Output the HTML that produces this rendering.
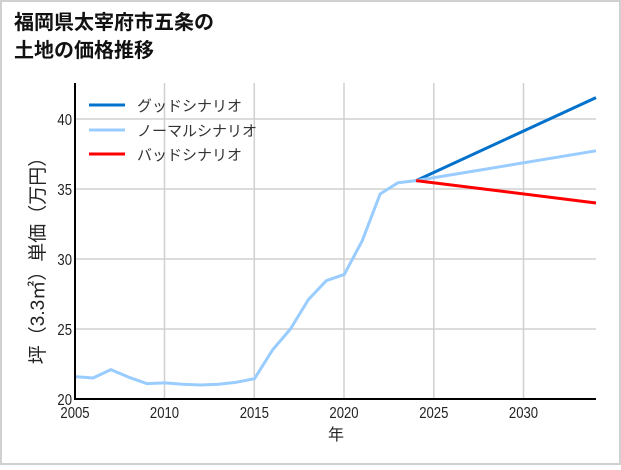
<!DOCTYPE html>
<html><head><meta charset="utf-8"><style>
html,body{margin:0;padding:0;background:#fff;}
body{width:621px;height:465px;overflow:hidden;}
svg text{font-family:"Liberation Sans","Noto Sans CJK JP",sans-serif;}
</style></head><body>
<svg width="621" height="465" viewBox="0 0 621 465" xmlns="http://www.w3.org/2000/svg">
<rect x="1" y="1" width="619" height="463" fill="#fff" stroke="#d0d0d0" stroke-width="2"/>
<text x="14" y="29" font-size="20" font-weight="bold" fill="#111">福岡県太宰府市五条の</text>
<text x="14" y="57" font-size="20" font-weight="bold" fill="#111">土地の価格推移</text>
<g stroke="#d0d0d0" stroke-width="1.5">
<line x1="164.5" y1="83" x2="164.5" y2="399"/>
<line x1="254.3" y1="83" x2="254.3" y2="399"/>
<line x1="344" y1="83" x2="344" y2="399"/>
<line x1="433.8" y1="83" x2="433.8" y2="399"/>
<line x1="523.5" y1="83" x2="523.5" y2="399"/>
<line x1="75" y1="329" x2="596" y2="329"/>
<line x1="75" y1="259" x2="596" y2="259"/>
<line x1="75" y1="189" x2="596" y2="189"/>
<line x1="75" y1="119" x2="596" y2="119"/>
</g>
<polyline fill="none" stroke="#99ccff" stroke-width="3" stroke-linejoin="round" points="75,376.6 93,378 110.9,369.6 128.9,377.3 146.8,383.6 164.8,382.9 182.7,384.3 200.7,385 218.6,384.3 236.6,382.2 254.5,378.7 272.5,350 290.4,329 308.4,299.6 326.3,280.7 344.3,274.4 362.2,240.8 380.2,193.9 398.1,182.7 416.1,180.6"/>
<line x1="416.1" y1="180.6" x2="596" y2="97.6" stroke="#0072cc" stroke-width="3"/>
<line x1="416.1" y1="180.6" x2="596" y2="150.8" stroke="#99ccff" stroke-width="3"/>
<line x1="416.1" y1="180.6" x2="596" y2="203" stroke="#ff0000" stroke-width="3"/>
<line x1="75" y1="83" x2="75" y2="400" stroke="#000" stroke-width="2"/>
<line x1="74" y1="399" x2="596" y2="399" stroke="#000" stroke-width="2"/>
<g font-size="16" fill="#222" text-anchor="end">
<text transform="translate(72,405) scale(0.82,1)">20</text>
<text transform="translate(72,335) scale(0.82,1)">25</text>
<text transform="translate(72,265) scale(0.82,1)">30</text>
<text transform="translate(72,195) scale(0.82,1)">35</text>
<text transform="translate(72,125) scale(0.82,1)">40</text>
</g>
<g font-size="16" fill="#222" text-anchor="middle">
<text transform="translate(75,418) scale(0.82,1)">2005</text>
<text transform="translate(164.5,418) scale(0.82,1)">2010</text>
<text transform="translate(254.3,418) scale(0.82,1)">2015</text>
<text transform="translate(344,418) scale(0.82,1)">2020</text>
<text transform="translate(433.8,418) scale(0.82,1)">2025</text>
<text transform="translate(523.5,418) scale(0.82,1)">2030</text>
</g>
<text x="336" y="440" font-size="16" fill="#222" text-anchor="middle">年</text>
<text transform="translate(44,256) rotate(-90)" font-size="19" fill="#222" text-anchor="middle">坪（3.3㎡）単価（万円）</text>
<line x1="89" y1="105" x2="125" y2="105" stroke="#0072cc" stroke-width="3"/>
<line x1="89" y1="130" x2="125" y2="130" stroke="#99ccff" stroke-width="3"/>
<line x1="89" y1="154" x2="125" y2="154" stroke="#ff0000" stroke-width="3"/>
<g font-size="15" fill="#333">
<text x="137" y="111">グッドシナリオ</text>
<text x="137" y="136">ノーマルシナリオ</text>
<text x="137" y="160">バッドシナリオ</text>
</g>
</svg>
</body></html>
